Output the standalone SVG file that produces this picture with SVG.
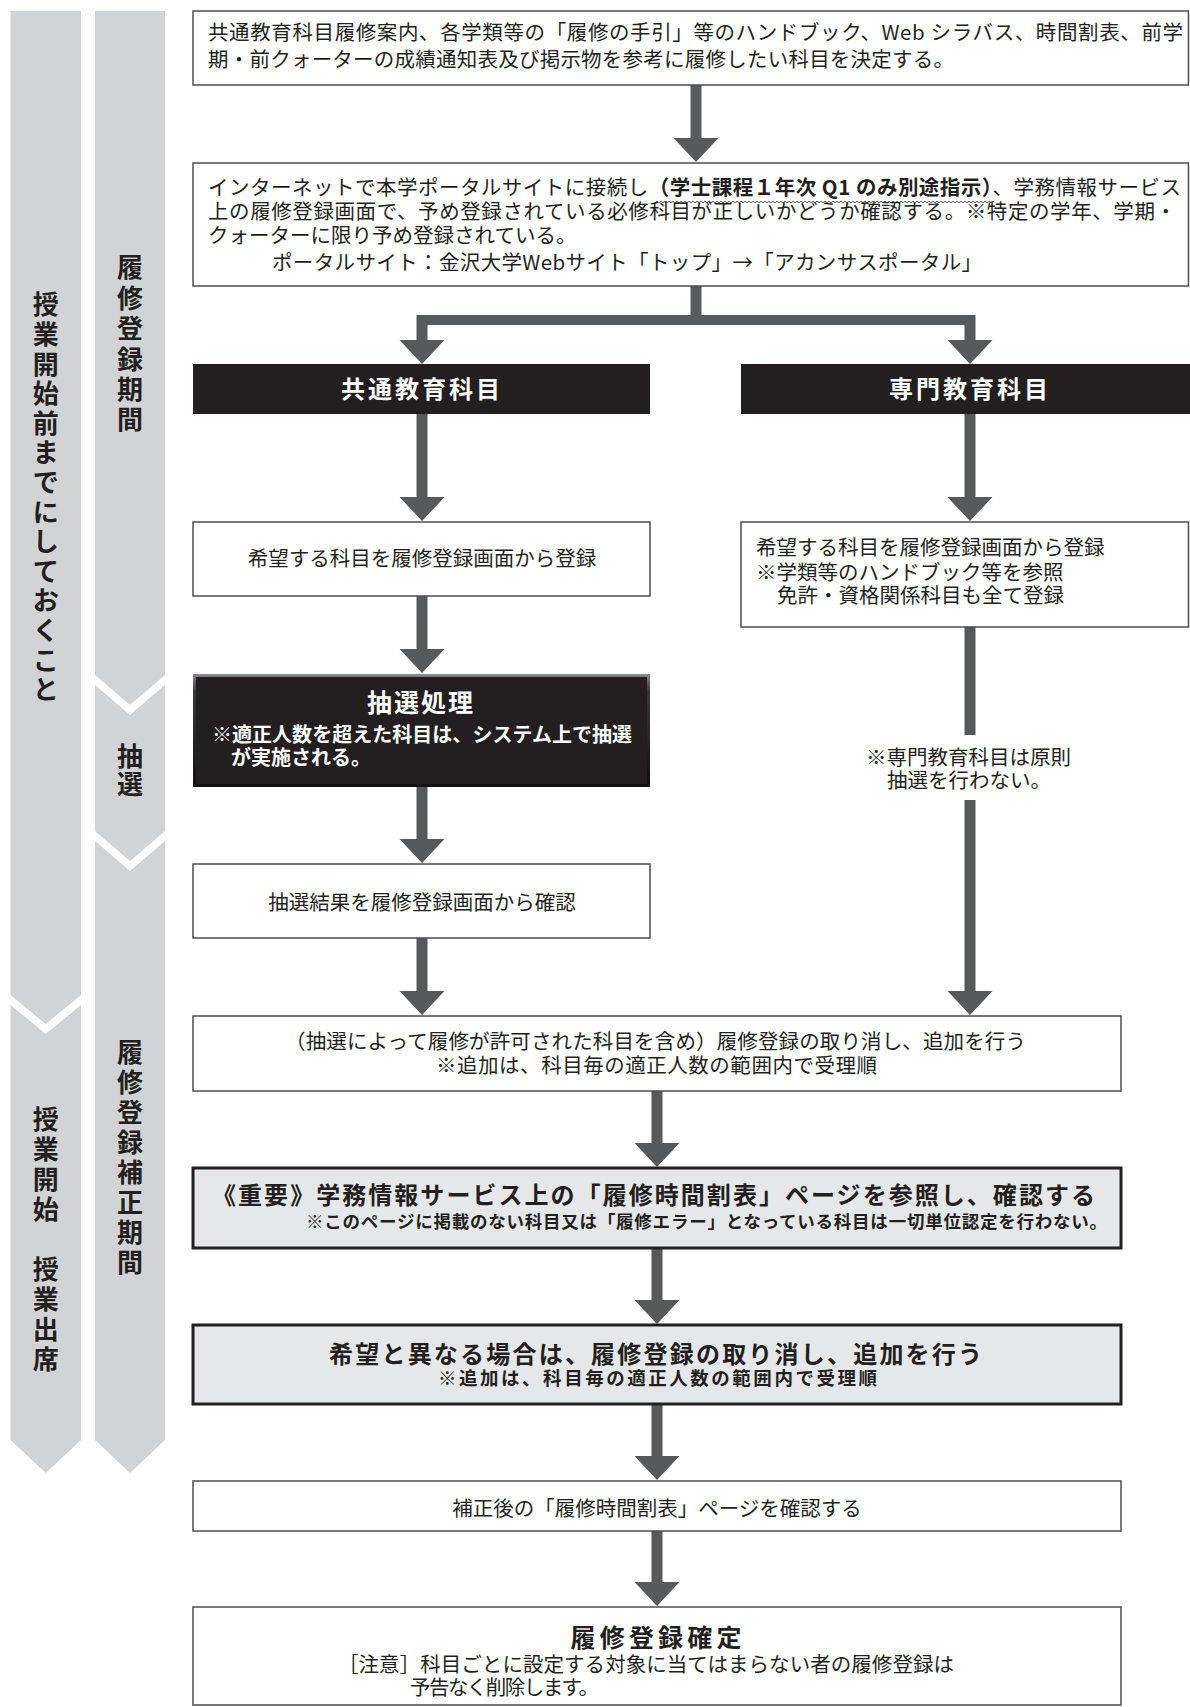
<svg xmlns="http://www.w3.org/2000/svg" width="1190" height="1707" viewBox="0 0 1190 1707">
<style>
text{font-family:"Noto Sans CJK JP","Noto Sans",sans-serif;fill:#231f20}
.t{font-size:20.5px}
.b{font-weight:700}
.w{fill:#fff}
.hd{font-size:24px;font-weight:700;fill:#fff;letter-spacing:3px}
.vl{font-size:26px;font-weight:700;text-anchor:middle}
.bar{fill:#d1d3d4}
.box{fill:#fff;stroke:#4d4d4f;stroke-width:1.5}
.gbox{fill:#e6e7e8;stroke:#231f20;stroke-width:3}
.blk{fill:#231f20}
.arr{fill:#58595b}
.c{text-anchor:middle}
</style>
<defs>
<pattern id="wave" width="4" height="4" patternUnits="userSpaceOnUse">
<path d="M0 2 Q1 0.5 2 2 T4 2" fill="none" stroke="#231f20" stroke-width="0.8"/>
</pattern>
<linearGradient id="bev" x1="0" y1="0" x2="0" y2="1">
<stop offset="0" stop-color="#8a8b8d"/>
<stop offset="0.15" stop-color="#3a3637"/>
<stop offset="1" stop-color="#111"/>
</linearGradient>
</defs>

<g id="bars">
<polygon class="bar" points="10.5,11 81,11 81,995 45.75,1024 10.5,995"/>
<polygon class="bar" points="10.5,1005 45.75,1034 81,1005 81,1440 45.75,1473 10.5,1440"/>
<polygon class="bar" points="95,11 165,11 165,675 130,705 95,675"/>
<polygon class="bar" points="95,685 130,715 165,685 165,831 130,861 95,831"/>
<polygon class="bar" points="95,841 130,871 165,841 165,1440 130,1473 95,1440"/>
<text class="vl"><tspan x="45.75" y="314.4">授</tspan><tspan x="45.75" y="344">業</tspan><tspan x="45.75" y="373.6">開</tspan><tspan x="45.75" y="403.2">始</tspan><tspan x="45.75" y="432.8">前</tspan><tspan x="45.75" y="462.4">ま</tspan><tspan x="45.75" y="492">で</tspan><tspan x="45.75" y="521.6">に</tspan><tspan x="45.75" y="551.2">し</tspan><tspan x="45.75" y="580.8">て</tspan><tspan x="45.75" y="610.4">お</tspan><tspan x="45.75" y="640">く</tspan><tspan x="45.75" y="669.6">こ</tspan><tspan x="45.75" y="699.2">と</tspan></text>
<text class="vl"><tspan x="45.75" y="1129.4">授</tspan><tspan x="45.75" y="1159.4">業</tspan><tspan x="45.75" y="1189.4">開</tspan><tspan x="45.75" y="1219.4">始</tspan><tspan x="45.75" y="1279.4">授</tspan><tspan x="45.75" y="1309.4">業</tspan><tspan x="45.75" y="1339.4">出</tspan><tspan x="45.75" y="1369.4">席</tspan></text>
<text class="vl"><tspan x="130" y="277.4">履</tspan><tspan x="130" y="307.8">修</tspan><tspan x="130" y="338.2">登</tspan><tspan x="130" y="368.6">録</tspan><tspan x="130" y="399">期</tspan><tspan x="130" y="429.4">間</tspan></text>
<text class="vl"><tspan x="130" y="766.4">抽</tspan><tspan x="130" y="794.4">選</tspan></text>
<text class="vl"><tspan x="130" y="1062.4">履</tspan><tspan x="130" y="1092.4">修</tspan><tspan x="130" y="1122.4">登</tspan><tspan x="130" y="1152.4">録</tspan><tspan x="130" y="1182.4">補</tspan><tspan x="130" y="1212.4">正</tspan><tspan x="130" y="1242.4">期</tspan><tspan x="130" y="1272.4">間</tspan></text>
</g>

<g id="connectors">
<path class="arr" d="M690.5 85 H701.5 V138 H718.5 L696 162 L673.5 138 H690.5 Z"/>
<path class="arr" d="M690.5 286 H701.5 V315 H975.5 V340 H992.5 L970 364 L947.5 340 H964.5 V325 H427.5 V340 H444.5 L422 364 L399.5 340 H416.5 V315 H690.5 Z"/>
<path class="arr" d="M416.5 414 H427.5 V497 H444.5 L422 521 L399.5 497 H416.5 Z"/>
<path class="arr" d="M964.5 414 H975.5 V497 H992.5 L970 521 L947.5 497 H964.5 Z"/>
<path class="arr" d="M416.5 596 H427.5 V649 H444.5 L422 673 L399.5 649 H416.5 Z"/>
<path class="arr" d="M416.5 787 H427.5 V839 H444.5 L422 863 L399.5 839 H416.5 Z"/>
<path class="arr" d="M416.5 938 H427.5 V991 H444.5 L422 1015 L399.5 991 H416.5 Z"/>
<rect class="arr" x="964.5" y="627" width="11" height="108"/>
<path class="arr" d="M964.5 800 H975.5 V991 H992.5 L970 1015 L947.5 991 H964.5 Z"/>
<path class="arr" d="M651.5 1091 H662.5 V1143 H679.5 L657 1167 L634.5 1143 H651.5 Z"/>
<path class="arr" d="M651.5 1248 H662.5 V1300 H679.5 L657 1324 L634.5 1300 H651.5 Z"/>
<path class="arr" d="M651.5 1404 H662.5 V1456 H679.5 L657 1480 L634.5 1456 H651.5 Z"/>
<path class="arr" d="M651.5 1531 H662.5 V1582 H679.5 L657 1606 L634.5 1582 H651.5 Z"/>
<text class="t"><tspan x="866" y="764.5">※専門教育科目は原則</tspan><tspan x="887" y="787.5">抽選を行わない。</tspan></text>
</g>

<g id="n-decide">
<rect class="box" x="193" y="11" width="995.5" height="74"/>
<text class="t" x="208" y="40" textLength="975" lengthAdjust="spacing">共通教育科目履修案内、各学類等の「履修の手引」等のハンドブック、Web シラバス、時間割表、前学</text>
<text class="t" x="208" y="67" textLength="746" lengthAdjust="spacing">期・前クォーターの成績通知表及び掲示物を参考に履修したい科目を決定する。</text>
</g>

<g id="n-portal">
<rect class="box" x="193" y="163" width="995.5" height="123"/>
<text class="t" x="208" y="195" textLength="973" lengthAdjust="spacing">インターネットで本学ポータルサイトに接続し<tspan class="b">（学士課程１年次 Q1 のみ別途指示）</tspan>、学務情報サービス</text>
<rect x="655" y="199" width="339" height="4" fill="url(#wave)"/>
<text class="t" x="208" y="218.5" textLength="968" lengthAdjust="spacing">上の履修登録画面で、予め登録されている必修科目が正しいかどうか確認する。※特定の学年、学期・</text>
<text class="t" x="208" y="243">クォーターに限り予め登録されている。</text>
<text class="t" x="272" y="269.5" textLength="710" lengthAdjust="spacing">ポータルサイト：金沢大学Webサイト「トップ」→「アカンサスポータル」</text>
</g>

<g id="n-common">
<rect class="blk" x="193" y="364" width="457" height="50"/>
<text class="hd c" x="422" y="398">共通教育科目</text>
</g>

<g id="n-major">
<rect class="blk" x="741" y="364" width="449" height="50"/>
<text class="hd c" x="970" y="398">専門教育科目</text>
</g>

<g id="n-reg-common">
<rect class="box" x="193" y="522" width="457" height="74"/>
<text class="t c" x="422" y="566">希望する科目を履修登録画面から登録</text>
</g>

<g id="n-reg-major">
<rect class="box" x="741" y="522" width="447.5" height="105"/>
<text class="t"><tspan x="756" y="555">希望する科目を履修登録画面から登録</tspan><tspan x="756" y="579.5">※学類等のハンドブック等を参照</tspan><tspan x="777" y="603">免許・資格関係科目も全て登録</tspan></text>
</g>

<g id="n-lottery">
<rect x="193" y="674" width="457" height="113" fill="url(#bev)"/>
<rect x="196" y="677" width="451" height="107" fill="#231f20"/>
<text class="w b c" x="421" y="712" style="font-size:25px;letter-spacing:2px">抽選処理</text>
<text class="w b" x="212" y="742" style="font-size:20px" textLength="420" lengthAdjust="spacing">※適正人数を超えた科目は、システム上で抽選</text>
<text class="w b" x="231" y="765" style="font-size:20px">が実施される。</text>
</g>

<g id="n-result">
<rect class="box" x="193" y="864" width="457" height="74"/>
<text class="t c" x="422" y="909.5">抽選結果を履修登録画面から確認</text>
</g>

<g id="n-adjust">
<rect class="box" x="193" y="1016" width="928" height="75"/>
<text class="t" x="285" y="1048.5" textLength="741" lengthAdjust="spacing">（抽選によって履修が許可された科目を含め）履修登録の取り消し、追加を行う</text>
<text class="t" x="436" y="1072.5" textLength="441" lengthAdjust="spacing">※追加は、科目毎の適正人数の範囲内で受理順</text>
</g>

<g id="n-important">
<rect class="gbox" x="193" y="1168" width="928" height="80"/>
<text class="b" x="212" y="1203.5" style="font-size:24px" textLength="883" lengthAdjust="spacing">《重要》学務情報サービス上の「履修時間割表」ページを参照し、確認する</text>
<text class="b" x="306" y="1227.5" style="font-size:17.5px" textLength="801" lengthAdjust="spacing">※このページに掲載のない科目又は「履修エラー」となっている科目は一切単位認定を行わない。</text>
</g>

<g id="n-modify">
<rect class="gbox" x="193" y="1325" width="928" height="79"/>
<text class="b" x="329" y="1363" style="font-size:24px" textLength="653" lengthAdjust="spacing">希望と異なる場合は、履修登録の取り消し、追加を行う</text>
<text class="b" x="438" y="1384.5" style="font-size:18.5px" textLength="439" lengthAdjust="spacing">※追加は、科目毎の適正人数の範囲内で受理順</text>
</g>

<g id="n-check">
<rect class="box" x="193" y="1481" width="928" height="50"/>
<text class="t c" x="657" y="1515.5">補正後の「履修時間割表」ページを確認する</text>
</g>

<g id="n-final">
<rect class="box" x="193" y="1607" width="928" height="98"/>
<text class="b c" x="656" y="1647" style="font-size:25px" textLength="171" lengthAdjust="spacing">履修登録確定</text>
<text class="t" x="338" y="1672" textLength="616" lengthAdjust="spacing">［注意］科目ごとに設定する対象に当てはまらない者の履修登録は</text>
<text class="t" x="410" y="1695" textLength="189" lengthAdjust="spacing">予告なく削除します。</text>
</g>
</svg>
